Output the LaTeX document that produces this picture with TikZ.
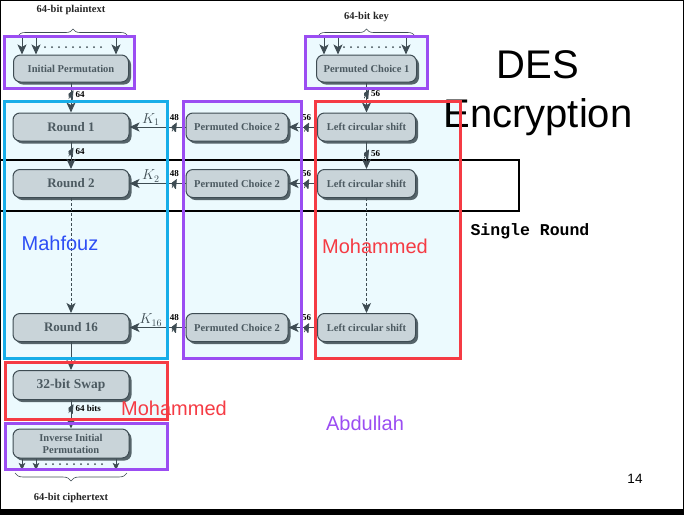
\documentclass[tikz,border=0pt]{standalone}
\usepackage{fontspec}
\setmainfont{Liberation Serif}
\setsansfont{Liberation Sans}
\setmonofont{Liberation Mono}
\usetikzlibrary{arrows.meta,shadows,positioning}
\usetikzlibrary{decorations.pathreplacing}

\definecolor{fonce}{HTML}{3E4C53}
\definecolor{textegris}{HTML}{4C5A61}
\definecolor{grisbleu}{HTML}{C9D4D9}
\definecolor{ombre}{HTML}{56646A}
\definecolor{bleuclair}{HTML}{ECFAFE}
\definecolor{violetcadre}{HTML}{9B4DF2}
\definecolor{cyancadre}{HTML}{17ADE8}
\definecolor{rougecadre}{HTML}{F53B44}
\definecolor{bleunom}{HTML}{2D4EF5}

\begin{document}
\begin{tikzpicture}[x=1pt, y=-1pt,
  boite/.style={draw=fonce, line width=1pt, fill=grisbleu, rounded corners=7pt,
    text=textegris, inner sep=1pt, font=\bfseries\fontsize{10.5}{12}\selectfont,
    drop shadow={shadow xshift=2.5pt, shadow yshift=-2.5pt, fill=ombre, opacity=1}},
  grand/.style={font=\bfseries\fontsize{13}{14}\selectfont},
  fleche/.style={draw=fonce, line width=1pt, -{Stealth[length=10pt,width=9pt,inset=2.5pt]}},
  petitefleche/.style={draw=fonce, line width=0.8pt, -{Stealth[length=7pt,width=6.5pt,inset=1.5pt]}},
  pointille/.style={fleche, dash pattern=on 3pt off 2pt},
  barre/.style={inner sep=0pt, minimum width=5pt, minimum height=9pt,
    path picture={\draw[fonce, line width=0.7pt] (path picture bounding box.south west)
      -- (path picture bounding box.north east);}},
  etiq/.style={font=\bfseries\fontsize{9}{9}\selectfont, inner sep=1pt, text=black},
  cle/.style={font=\fontsize{14}{14}\selectfont, text=fonce, inner sep=1pt},
  texte/.style={font=\bfseries\fontsize{10.5}{12}\selectfont, text=black!85},
  accolade/.style={draw=fonce, line width=0.6pt, decorate},
  cadre/.style={line width=3pt},
  nom/.style={font=\sffamily\fontsize{20}{20}\selectfont, anchor=base}]
\useasboundingbox (0,0) rectangle (686,515);

% fonds bleu clair
\fill[bleuclair] (4,36) rectangle (134,88);
\fill[bleuclair] (305,36) rectangle (427,88);
\fill[bleuclair] (4,101) rectangle (167,358);
\fill[bleuclair] (183,101) rectangle (301,358);
\fill[bleuclair] (315,101) rectangle (460,358);
\fill[bleuclair] (5,362) rectangle (167,419);
\fill[bleuclair] (5,423) rectangle (167,469);

% cadre de la diapositive
\draw[line width=1pt] (0.5,0.5) rectangle (683,510);
\fill (0,509) rectangle (684,515);

% un tour
\draw[line width=1.2pt] (-1,160) rectangle (519,211);
\node[font=\ttfamily\bfseries\fontsize{16.5}{16.5}\selectfont, anchor=base] (tour) at (530,235) {Single Round};

% titre
\node[font=\sffamily\fontsize{40}{40}\selectfont, anchor=base] (des) at (538,78) {DES};
\node[font=\sffamily\fontsize{40}{40}\selectfont, anchor=base] (enc) at (538,127) {Encryption};
\node[font=\sffamily\fontsize{13.5}{13.5}\selectfont, anchor=base] (page) at (635,483) {14};

% colonne des donnees
\node[texte] (clair) at (71,10) {64-bit plaintext};
\node[boite, minimum width=115pt, minimum height=27pt] (ip) at (71,68.5) {Initial Permutation};
\node[boite, grand, minimum width=116pt, minimum height=28pt] (r1) at (71,127) {Round 1};
\node[boite, grand, minimum width=116pt, minimum height=28pt] (r2) at (71,183.5) {Round 2};
\node[boite, grand, minimum width=116pt, minimum height=28pt] (r16) at (71,327.5) {Round 16};
\node[boite, font=\bfseries\fontsize{13.5}{14}\selectfont, minimum width=116pt, minimum height=29pt] (swap) at (71,385) {32-bit Swap};
\node[boite, align=center, minimum width=116pt, minimum height=29pt] (iip) at (71,443.5) {Inverse Initial\\Permutation};
\node[texte] (chiffre) at (71,498) {64-bit ciphertext};

% colonne de la cle
\node[texte] (cletxt) at (366.5,17) {64-bit key};
\node[boite, minimum width=100pt, minimum height=27pt] (pc1) at (366.5,68.5) {Permuted Choice 1};
\node[boite, minimum width=102pt, minimum height=28pt] (pcA) at (237,127) {Permuted Choice 2};
\node[boite, minimum width=102pt, minimum height=28pt] (pcB) at (237,183.5) {Permuted Choice 2};
\node[boite, minimum width=102pt, minimum height=28pt] (pcC) at (237,327.5) {Permuted Choice 2};
\node[boite, minimum width=98pt, minimum height=28pt] (lsA) at (366.5,127) {Left circular shift};
\node[boite, minimum width=98pt, minimum height=28pt] (lsB) at (366.5,183.5) {Left circular shift};
\node[boite, minimum width=98pt, minimum height=28pt] (lsC) at (366.5,327.5) {Left circular shift};

% accolades et entrees
\draw[accolade, decoration={brace, amplitude=7pt}] (18,36) -- (128,36);
\draw[accolade, decoration={brace, amplitude=7pt}] (318,36) -- (415,36);
\draw[accolade, decoration={brace, mirror, amplitude=8pt}] (15,473) -- (127,473);
\foreach \x/\n in {22/a,36/b,116/c} {
  \coordinate (e\n) at (\x,36);
  \coordinate (s\n) at (\x,470);
  \draw[fleche] (e\n) -- (e\n |- ip.north);
  \draw[petitefleche] (iip.south -| s\n) -- (s\n);
}
\foreach \x/\n in {324/a,338/b,406/c} {
  \coordinate (k\n) at (\x,36);
  \draw[fleche] (k\n) -- (k\n |- pc1.north);
}
\foreach \x in {45,52,...,101} {
  \fill[fonce] (\x,47) circle (1pt);
  \fill[fonce] (\x+299,47) circle (1pt);
  \fill[fonce] (\x+1,464) circle (1pt);
}

% liaisons verticales
\draw[fleche] (ip) -- node[barre, pos=0.4, label={[etiq, name=lA]right:64}] (bA) {} (r1);
\draw[fleche] (r1) -- node[barre, pos=0.38, label={[etiq, name=lB]right:64}] (bB) {} (r2);
\draw[pointille] (r2) -- (r16);
\draw[fleche] (r16) -- (swap);
\draw[fleche] (swap) -- node[barre, pos=0.3, label={[etiq, name=lC]right:64 bits}] (bC) {} (iip);
\draw[fleche] (pc1) -- node[barre, pos=0.38, label={[etiq, name=lD]right:56}] (bD) {} (lsA);
\draw[fleche] (lsA) -- node[barre, pos=0.45, label={[etiq, name=lE]right:56}] (bE) {} (lsB);
\draw[pointille] (lsB) -- (lsC);

% liaisons horizontales
\foreach \p/\r/\l/\k in {pcA/r1/lsA/1, pcB/r2/lsB/2, pcC/r16/lsC/16} {
  \draw[fleche] (\p.west) -- node[barre, pos=0.2, label={[etiq]above:48}] (h\k) {}
    node[cle, pos=0.62, above] (K\k) {$K_{\k}$} (\r.east);
  \draw[fleche] (\l.west) -- node[barre, pos=0.36, label={[etiq]above:56}] (g\k) {} (\p.east);
}

% cadres des groupes
\draw[cadre, violetcadre] (4,36) rectangle (134,88);
\draw[cadre, violetcadre] (305,36) rectangle (427,88);
\draw[cadre, cyancadre] (4,101) rectangle (167,358);
\draw[cadre, violetcadre] (183,101) rectangle (301,358);
\draw[cadre, rougecadre] (315,101) rectangle (460,358);
\draw[cadre, rougecadre] (5,362) rectangle (167,419);
\draw[cadre, violetcadre] (5,423) rectangle (167,469);

% noms
\node[nom, text=bleunom] (mahfouz) at (60,250.5) {Mahfouz};
\node[nom, text=rougecadre] (moh1) at (375,253.5) {Mohammed};
\node[nom, text=rougecadre] (moh2) at (174,415.5) {Mohammed};
\node[nom, text=violetcadre] (abd) at (365,430) {Abdullah};
\end{tikzpicture}
\end{document}
